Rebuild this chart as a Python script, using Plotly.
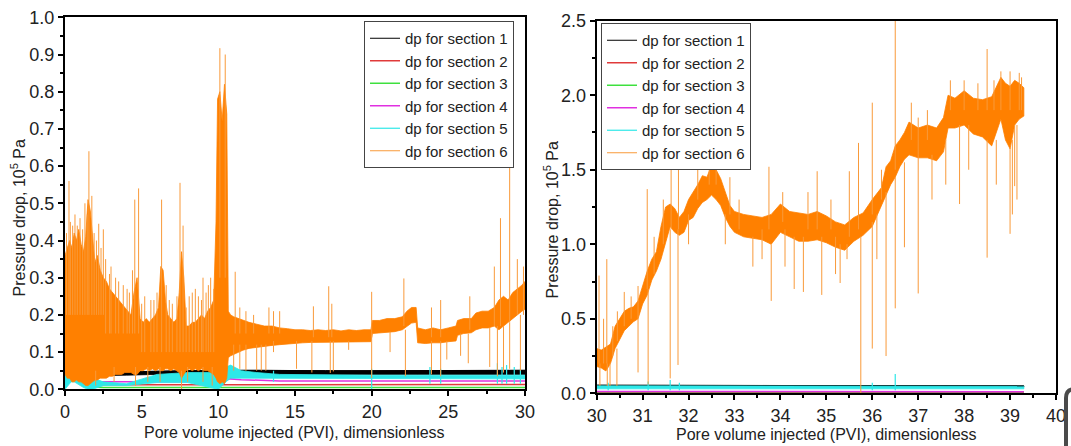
import plotly.graph_objects as go

W, H = 1071, 446

# ---------------- left panel: 0 - 30 PVI ----------------
# section 6 noise band (upper / lower envelope), 10^5 Pa
L6_x = [0.0, 0.15, 0.3, 0.45, 0.6, 0.75, 0.9, 1.05, 1.2, 1.35, 1.5, 1.65, 1.8, 1.95, 2.1, 2.3, 2.5, 2.7,
        2.9, 3.1, 3.3, 3.5, 3.7, 3.9, 4.1, 4.3, 4.5, 4.7, 4.9, 5.1, 5.3, 5.5, 5.7, 5.9, 6.1, 6.25, 6.4,
        6.55, 6.7, 6.9, 7.1, 7.3, 7.45, 7.6, 7.75, 7.9, 8.1, 8.3, 8.5, 8.7, 8.9, 9.1, 9.3, 9.5, 9.7,
        9.85, 9.95, 10.1, 10.25, 10.4, 10.55, 10.65, 10.8, 11.0, 11.3, 11.6, 12.0, 12.5, 13.0, 13.5,
        14.0, 14.5, 15.0, 15.5, 16.0, 16.5, 17.0, 17.5, 18.0, 18.5, 19.0, 19.5, 19.95, 20.05, 20.5,
        21.0, 21.5, 22.0, 22.3, 22.6, 22.9, 23.0, 23.5, 24.0, 24.5, 25.0, 25.5, 25.6, 26.0, 26.5,
        26.8, 27.2, 27.6, 28.0, 28.3, 28.6, 28.9, 29.2, 29.5, 29.8, 30.0]
L6_hi = [0.36, 0.38, 0.40, 0.38, 0.42, 0.40, 0.43, 0.39, 0.37, 0.41, 0.51, 0.48, 0.40, 0.34, 0.36, 0.32,
         0.30, 0.29, 0.27, 0.26, 0.25, 0.24, 0.23, 0.22, 0.21, 0.20, 0.26, 0.30, 0.19, 0.18, 0.19, 0.18,
         0.19, 0.20, 0.22, 0.33, 0.32, 0.24, 0.20, 0.19, 0.18, 0.19, 0.26, 0.37, 0.30, 0.17, 0.17, 0.18,
         0.18, 0.19, 0.20, 0.19, 0.21, 0.22, 0.24, 0.45, 0.78, 0.80, 0.72, 0.82, 0.74, 0.21, 0.20, 0.195,
         0.19, 0.185, 0.18, 0.175, 0.17, 0.17, 0.165, 0.163, 0.16, 0.16, 0.158, 0.16, 0.158, 0.16, 0.157,
         0.16, 0.158, 0.16, 0.16, 0.185, 0.185, 0.19, 0.19, 0.195, 0.21, 0.22, 0.22, 0.165, 0.16, 0.165,
         0.16, 0.165, 0.17, 0.185, 0.19, 0.19, 0.205, 0.21, 0.21, 0.22, 0.24, 0.25, 0.24, 0.26, 0.27,
         0.28, 0.29]
L6_lo = [0.04, 0.03, 0.03, 0.02, 0.02, 0.025, 0.02, 0.02, 0.015, 0.01, 0.01, 0.015, 0.02, 0.025, 0.025,
         0.03, 0.03, 0.03, 0.035, 0.035, 0.04, 0.04, 0.04, 0.045, 0.045, 0.045, 0.04, 0.04, 0.05, 0.05,
         0.055, 0.05, 0.055, 0.05, 0.055, 0.05, 0.05, 0.055, 0.055, 0.05, 0.055, 0.05, 0.045, 0.03, 0.04,
         0.05, 0.055, 0.05, 0.055, 0.05, 0.055, 0.05, 0.05, 0.045, 0.04, 0.03, 0.02, 0.015, 0.02, 0.015,
         0.03, 0.085, 0.09, 0.095, 0.10, 0.105, 0.11, 0.112, 0.115, 0.118, 0.12, 0.122, 0.124, 0.125,
         0.126, 0.127, 0.127, 0.126, 0.128, 0.128, 0.128, 0.128, 0.128, 0.15, 0.152, 0.153, 0.155, 0.16,
         0.17, 0.178, 0.18, 0.125, 0.123, 0.125, 0.125, 0.128, 0.13, 0.145, 0.15, 0.152, 0.16, 0.165,
         0.165, 0.17, 0.16, 0.17, 0.18, 0.19, 0.20, 0.21, 0.215]
# section 6 isolated excursions (x, low end, high end)
L6_sp_x = [0.26, 0.5, 0.98, 1.3, 1.45, 1.56, 1.75, 2.2, 2.5, 2.9, 3.3, 3.8, 4.05, 4.55, 4.8, 5.2, 5.6,
           6.3, 6.8, 7.5, 7.7, 8.1, 8.5, 8.9, 9.2, 9.5, 10.1, 10.45, 11.1, 13.3, 13.6, 14.0, 16.2, 17.2,
           17.4, 20.0, 22.1, 23.9, 24.5, 26.4, 28.0, 28.4, 29.0, 29.5, 29.9,
           0.1, 0.35, 0.65, 0.8, 1.15, 1.9, 2.05, 2.35, 2.65, 3.0, 3.5, 4.2, 4.4, 5.0, 5.8, 6.0, 6.6,
           7.0, 7.3, 7.9, 8.3, 8.7, 9.0, 9.35, 9.7, 11.4, 11.8, 12.3,
           11.0, 11.4, 11.8, 12.5, 12.8, 13.1, 13.6, 15.1, 16.1, 17.3, 17.5, 18.5, 20.0, 21.2, 22.2,
           23.9, 24.5, 24.9, 25.8, 26.3, 27.7, 28.2, 28.6, 29.0, 29.7,
           2.0, 3.2, 4.6, 5.4, 6.2, 7.6, 8.0, 9.0, 9.6]
L6_sp_lo = [0.2, 0.2, 0.2, 0.2, 0.2, 0.2, 0.2, 0.2, 0.2, 0.15, 0.15, 0.15, 0.15, 0.15, 0.15, 0.1, 0.1,
            0.1, 0.1, 0.1, 0.1, 0.1, 0.1, 0.1, 0.1, 0.1, 0.3, 0.3, 0.15, 0.15, 0.15, 0.15, 0.14, 0.14,
            0.14, 0.14, 0.17, 0.14, 0.14, 0.16, 0.17, 0.17, 0.18, 0.2, 0.2,
            0.2, 0.2, 0.2, 0.2, 0.2, 0.2, 0.2, 0.2, 0.15, 0.15, 0.15, 0.15, 0.15, 0.1, 0.1, 0.1, 0.1,
            0.1, 0.1, 0.1, 0.1, 0.1, 0.1, 0.1, 0.1, 0.15, 0.15, 0.15,
            0.05, 0.055, 0.05, 0.05, 0.05, 0.05, 0.10, 0.055, 0.045, 0.044, 0.048, 0.106, 0.03, 0.10,
            0.035, 0.04, 0.035, 0.08, 0.09, 0.07, 0.06, 0.035, 0.045, 0.055, 0.05,
            0.01, 0.02, 0.01, 0.02, 0.02, 0.0, 0.02, 0.02, 0.01]
L6_sp_hi = [0.56, 0.44, 0.46, 0.50, 0.47, 0.64, 0.52, 0.445, 0.43, 0.31, 0.30, 0.28, 0.27, 0.51, 0.54,
            0.25, 0.24, 0.51, 0.24, 0.555, 0.44, 0.25, 0.27, 0.24, 0.26, 0.30, 0.917, 0.90, 0.316, 0.22,
            0.21, 0.21, 0.223, 0.277, 0.23, 0.262, 0.298, 0.22, 0.24, 0.25, 0.33, 0.46, 0.62, 0.35, 0.33,
            0.42, 0.45, 0.47, 0.44, 0.43, 0.42, 0.40, 0.38, 0.35, 0.33, 0.29, 0.26, 0.32, 0.23, 0.24,
            0.26, 0.28, 0.23, 0.25, 0.22, 0.26, 0.25, 0.30, 0.28, 0.27, 0.22, 0.21, 0.20,
            0.12, 0.12, 0.12, 0.12, 0.12, 0.12, 0.13, 0.13, 0.13, 0.13, 0.13, 0.13, 0.15, 0.155, 0.16,
            0.13, 0.13, 0.13, 0.15, 0.15, 0.165, 0.17, 0.17, 0.18, 0.2,
            0.05, 0.06, 0.06, 0.06, 0.06, 0.05, 0.06, 0.06, 0.06]

# sections 1-5 (bottom traces); sections 1 and 5 carry a noise band
L_x = [0, 0.2, 0.4, 0.6, 0.8, 1.0, 1.2, 1.5, 1.8, 2.5, 4, 6, 8, 10, 10.5, 10.8, 11.5, 12.5, 14, 17, 20,
       23, 26, 30]
L1_hi = [0.044, 0.044, 0.044, 0.044, 0.044, 0.044, 0.044, 0.044, 0.044, 0.045, 0.047, 0.049, 0.05, 0.05,
         0.051, 0.051, 0.051, 0.051, 0.05, 0.05, 0.05, 0.05, 0.051, 0.051]
L1_lo = [0.036, 0.036, 0.036, 0.036, 0.036, 0.036, 0.036, 0.036, 0.036, 0.036, 0.038, 0.04, 0.04, 0.04,
         0.041, 0.041, 0.041, 0.041, 0.04, 0.04, 0.04, 0.04, 0.04, 0.04]
L2 = [0.02, 0.03, 0.035, 0.03, 0.025, 0.02, 0.015, 0.012, 0.012, 0.012, 0.012, 0.012, 0.012, 0.012,
      0.013, 0.014, 0.014, 0.013, 0.013, 0.013, 0.013, 0.013, 0.013, 0.013]
L3 = [0.01, 0.03, 0.05, 0.06, 0.045, 0.03, 0.015, 0.008, 0.006, 0.005, 0.005, 0.005, 0.005, 0.005,
      0.006, 0.006, 0.006, 0.006, 0.005, 0.005, 0.005, 0.005, 0.005, 0.005]
L4 = [0.03, 0.06, 0.09, 0.08, 0.05, 0.04, 0.03, 0.02, 0.02, 0.02, 0.02, 0.02, 0.02, 0.02, 0.025, 0.028,
      0.026, 0.024, 0.022, 0.022, 0.022, 0.022, 0.022, 0.022]
L5_hi = [0.10, 0.09, 0.11, 0.08, 0.06, 0.05, 0.04, 0.035, 0.03, 0.02, 0.015, 0.04, 0.045, 0.045, 0.06,
         0.065, 0.05, 0.045, 0.04, 0.038, 0.038, 0.038, 0.038, 0.038]
L5_lo = [0.0, 0.01, 0.02, 0.02, 0.015, 0.01, 0.005, 0.0, 0.0, 0.01, 0.01, 0.018, 0.018, 0.0, 0.02,
         0.03, 0.03, 0.028, 0.028, 0.028, 0.028, 0.028, 0.028, 0.028]
L5_sp_x = [13.6, 20.0, 23.8, 24.5, 28.2, 28.5, 28.8, 29.3, 29.7]
L5_sp_lo = [0.02, 0.0, 0.015, 0.015, 0.015, 0.015, 0.015, 0.015, 0.015]
L5_sp_hi = [0.05, 0.055, 0.06, 0.055, 0.07, 0.06, 0.065, 0.06, 0.055]

# ---------------- right panel: 30 - 40 PVI ----------------
R6_x = [30.0, 30.1, 30.2, 30.3, 30.4, 30.5, 30.6, 30.7, 30.8, 30.9, 31.0, 31.1, 31.2, 31.3, 31.4, 31.5,
        31.6, 31.7, 31.8, 31.9, 32.0, 32.1, 32.2, 32.3, 32.4, 32.5, 32.6, 32.7, 32.8, 32.9, 33.0, 33.2,
        33.4, 33.6, 33.8, 34.0, 34.2, 34.4, 34.6, 34.8, 35.0, 35.2, 35.4, 35.6, 35.8, 36.0, 36.1, 36.2,
        36.3, 36.4, 36.5, 36.6, 36.7, 36.8, 37.0, 37.2, 37.4, 37.55, 37.65, 37.8, 38.0, 38.2, 38.4, 38.6,
        38.8, 38.9, 39.0, 39.1, 39.2, 39.3]
R6_hi = [0.30, 0.29, 0.31, 0.33, 0.45, 0.50, 0.55, 0.57, 0.58, 0.62, 0.72, 0.82, 0.90, 0.95, 1.12, 1.25,
         1.27, 1.24, 1.18, 1.22, 1.30, 1.35, 1.40, 1.46, 1.45, 1.53, 1.50, 1.44, 1.35, 1.26, 1.22, 1.20,
         1.19, 1.18, 1.20, 1.27, 1.22, 1.21, 1.20, 1.22, 1.19, 1.15, 1.13, 1.18, 1.21, 1.30, 1.34, 1.38,
         1.52, 1.56, 1.66, 1.70, 1.75, 1.82, 1.78, 1.80, 1.78, 1.85, 2.00, 1.98, 2.03, 1.98, 1.97, 1.99,
         2.12, 2.08, 2.06, 2.10, 2.08, 2.05]
R6_lo = [0.18, 0.17, 0.15, 0.20, 0.30, 0.36, 0.42, 0.45, 0.48, 0.50, 0.60, 0.66, 0.76, 0.82, 0.90, 1.00,
         1.12, 1.08, 1.06, 1.08, 1.16, 1.18, 1.24, 1.28, 1.30, 1.33, 1.30, 1.26, 1.18, 1.12, 1.08, 1.05,
         1.04, 1.03, 1.00, 1.08, 1.05, 1.02, 1.02, 1.03, 1.01, 0.98, 0.96, 1.02, 1.06, 1.12, 1.18, 1.25,
         1.33, 1.40, 1.45, 1.52, 1.57, 1.60, 1.58, 1.58, 1.56, 1.62, 1.78, 1.78, 1.80, 1.74, 1.72, 1.66,
         1.84, 1.70, 1.64, 1.80, 1.84, 1.86]
R6_sp_x = [30.05, 30.22, 30.45, 30.9, 31.1, 31.62, 31.78, 32.9, 33.75, 34.6, 34.8, 35.5, 35.7, 36.0,
           36.5, 37.0, 38.0, 38.5, 38.8, 39.0,
           30.15, 30.35, 30.6, 30.75, 31.25, 31.45, 32.2, 32.45, 32.6, 33.1, 34.05, 35.1, 36.2, 36.85,
           37.2, 37.7, 38.3, 38.65, 39.2, 39.25,
           30.07, 30.23, 30.29, 30.44, 30.9, 31.12, 31.6, 31.77, 33.4, 33.8, 34.3, 34.5, 34.9, 35.3,
           35.75, 36.0, 36.3, 36.5, 36.7, 37.0, 37.9, 38.5, 39.0, 39.1,
           32.0, 32.8, 33.6, 34.1, 35.2, 35.45, 36.1, 37.3, 37.6, 38.1, 38.7, 39.05, 39.15]
R6_sp_lo = [0.2, 0.2, 0.35, 0.5, 0.7, 1.1, 1.1, 1.2, 1.1, 1.1, 1.1, 1.05, 1.1, 1.2, 1.5, 1.6, 1.9, 1.9,
            1.9, 1.9,
            0.2, 0.25, 0.45, 0.5, 0.8, 1.0, 1.3, 1.4, 1.4, 1.1, 1.15, 1.1, 1.3, 1.7, 1.7, 1.9, 1.9, 1.9,
            1.9, 1.9,
            0.05, 0.05, 0.05, 0.05, 0.14, 0.06, 0.10, 0.19, 0.85, 0.62, 0.70, 0.68, 0.66, 0.74, 0.0,
            0.30, 0.25, 0.57, 0.98, 0.67, 1.27, 0.91, 1.07, 1.39,
            1.0, 1.0, 0.9, 0.85, 0.8, 0.9, 0.9, 1.3, 1.4, 1.5, 1.4, 1.2, 1.3]
R6_sp_hi = [0.79, 0.90, 0.55, 0.72, 1.37, 1.60, 1.55, 1.45, 1.52, 1.35, 1.49, 1.49, 1.68, 1.95, 2.50,
            1.85, 2.10, 2.31, 2.16, 2.16,
            0.5, 0.45, 0.68, 0.65, 1.05, 1.3, 1.5, 1.57, 1.56, 1.3, 1.35, 1.3, 1.5, 1.95, 1.9, 2.1, 2.08,
            2.1, 2.15, 2.12,
            0.2, 0.2, 0.2, 0.3, 0.5, 0.7, 1.1, 1.1, 1.05, 1.0, 1.05, 1.05, 1.05, 1.0, 1.05, 1.15, 1.35,
            1.45, 1.55, 1.6, 1.8, 1.7, 1.65, 1.8,
            1.2, 1.2, 1.1, 1.1, 1.05, 1.0, 1.2, 1.6, 1.7, 1.8, 1.7, 1.7, 1.8]

R_x = [30.0, 31.0, 32.0, 33.0, 34.0, 35.0, 36.0, 37.0, 38.0, 39.0, 39.3]
R1_hi = [0.054, 0.054, 0.053, 0.052, 0.052, 0.051, 0.051, 0.05, 0.05, 0.05, 0.05]
R1_lo = [0.046, 0.046, 0.045, 0.044, 0.044, 0.043, 0.043, 0.042, 0.042, 0.042, 0.042]
R2 = [0.006, 0.006, 0.006, 0.006, 0.006, 0.006, 0.006, 0.006, 0.006, 0.006, 0.006]
R3 = [0.01, 0.01, 0.01, 0.01, 0.01, 0.01, 0.01, 0.01, 0.01, 0.01, 0.01]
R4 = [0.012, 0.012, 0.012, 0.011, 0.011, 0.011, 0.012, 0.012, 0.011, 0.011, 0.011]
R5_hi = [0.05, 0.05, 0.05, 0.048, 0.047, 0.047, 0.048, 0.048, 0.047, 0.047, 0.047]
R5_lo = [0.03, 0.03, 0.03, 0.03, 0.03, 0.03, 0.03, 0.03, 0.03, 0.03, 0.03]
R5_sp_x = [30.25, 31.12, 31.6, 31.8, 36.0, 36.5]
R5_sp_lo = [0.02, 0.02, 0.02, 0.02, 0.02, 0.02]
R5_sp_hi = [0.07, 0.08, 0.09, 0.07, 0.07, 0.13]

NAMES = ["dp for section 1", "dp for section 2", "dp for section 3",
         "dp for section 4", "dp for section 5", "dp for section 6"]
COLORS = ["#000000", "#e03a3a", "#3ee03e", "#e030e0", "#2ee8e8", "#ff8000"]
SPIKE_ORANGE = "#f99a3a"
FONT = "Liberation Sans, Arial, sans-serif"


def segments(xs, lo, hi):
    sx, sy = [], []
    for x, a, b in zip(xs, lo, hi):
        sx += [x, x, None]
        sy += [a, b, None]
    return sx, sy


def band(fig, x, lo, hi, color, xa, ya, group):
    fig.add_trace(go.Scatter(x=list(x) + list(x)[::-1], y=list(hi) + list(lo)[::-1],
                             mode="lines", fill="toself", fillcolor=color,
                             line=dict(color=color, width=0.8), hoverinfo="skip",
                             showlegend=False, legendgroup=group, xaxis=xa, yaxis=ya))


fig = go.Figure()

panels = [
    dict(xa="x", ya="y", leg="legend", x=L_x, b1=(L1_lo, L1_hi), small=[L2, L3, L4], c5=(L5_lo, L5_hi),
         s5=(L5_sp_x, L5_sp_lo, L5_sp_hi), b6=(L6_x, L6_lo, L6_hi), s6=(L6_sp_x, L6_sp_lo, L6_sp_hi)),
    dict(xa="x2", ya="y2", leg="legend2", x=R_x, b1=(R1_lo, R1_hi), small=[R2, R3, R4], c5=(R5_lo, R5_hi),
         s5=(R5_sp_x, R5_sp_lo, R5_sp_hi), b6=(R6_x, R6_lo, R6_hi), s6=(R6_sp_x, R6_sp_lo, R6_sp_hi)),
]

for p in panels:
    grp = p["leg"]
    common = dict(legend=grp, xaxis=p["xa"], yaxis=p["ya"], mode="lines")
    # section 1: band plus a thin line carrying the legend entry
    band(fig, p["x"], p["b1"][0], p["b1"][1], COLORS[0], p["xa"], p["ya"], grp + "0")
    fig.add_trace(go.Scatter(x=p["x"], y=p["b1"][1], name=NAMES[0], legendgroup=grp + "0",
                             line=dict(color=COLORS[0], width=1), **common))
    for i, ys in enumerate(p["small"], start=1):
        fig.add_trace(go.Scatter(x=p["x"], y=ys, name=NAMES[i], legendgroup=grp + str(i),
                                 line=dict(color=COLORS[i], width=1.5), **common))
    # section 5
    band(fig, p["x"], p["c5"][0], p["c5"][1], COLORS[4], p["xa"], p["ya"], grp + "4")
    sx, sy = segments(*p["s5"])
    fig.add_trace(go.Scatter(x=sx, y=sy, name=NAMES[4], legendgroup=grp + "4",
                             line=dict(color=COLORS[4], width=1.2), **common))
    # section 6
    bx, blo, bhi = p["b6"]
    band(fig, bx, blo, bhi, COLORS[5], p["xa"], p["ya"], grp + "5")
    sx, sy = segments(*p["s6"])
    fig.add_trace(go.Scatter(x=sx, y=sy, name=NAMES[5], legendgroup=grp + "5",
                             line=dict(color=SPIKE_ORANGE, width=1), **common))


def px_x(v):
    return v / W


def px_y(v):
    return 1 - v / H


axis_common = dict(showgrid=False, zeroline=False, showline=True, linecolor="black", linewidth=2,
                   mirror=True, ticks="outside", ticklen=5, tickwidth=1.5, tickcolor="black",
                   automargin=False, tickfont=dict(family=FONT, size=18, color="#222"))

fig.update_layout(
    width=W, height=H, margin=dict(l=0, r=0, t=0, b=0, autoexpand=False),
    paper_bgcolor="white", plot_bgcolor="white",
    font=dict(family=FONT, color="#222"),
    xaxis=dict(domain=[px_x(65), px_x(525)], range=[0, 30], dtick=5, anchor="y",
               minor=dict(dtick=2.5, ticks="outside", ticklen=3, tickcolor="black"), **axis_common),
    yaxis=dict(domain=[px_y(389.3), px_y(17.3)], range=[0, 1.0], dtick=0.1, tickformat=".1f", anchor="x",
               minor=dict(dtick=0.05, ticks="outside", ticklen=3, tickcolor="black"), **axis_common),
    xaxis2=dict(domain=[px_x(596.7), px_x(1056)], range=[30, 40], dtick=1, anchor="y2",
                minor=dict(dtick=0.5, ticks="outside", ticklen=3, tickcolor="black"), **axis_common),
    yaxis2=dict(domain=[px_y(393.3), px_y(20.7)], range=[0, 2.5], dtick=0.5, tickformat=".1f", anchor="x2",
                minor=dict(dtick=0.25, ticks="outside", ticklen=3, tickcolor="black"), **axis_common),
    legend=dict(x=px_x(364), y=px_y(21), xanchor="left", yanchor="top", bgcolor="white",
                bordercolor="#444", borderwidth=1, font=dict(family=FONT, size=15, color="#222"),
                traceorder="normal"),
    legend2=dict(x=px_x(601), y=px_y(23), xanchor="left", yanchor="top", bgcolor="white",
                 bordercolor="#444", borderwidth=1, font=dict(family=FONT, size=15, color="#222"),
                 traceorder="normal"),
    showlegend=True,
)

xtitle = "Pore volume injected (PVI), dimensionless"
ytitle = "Pressure drop, 10<sup>5</sup> Pa"
for tx, ty, txt, ang in [(294, 432, xtitle, 0), (826, 434, xtitle, 0),
                         (18.5, 218, ytitle, -90), (551.5, 220, ytitle, -90)]:
    fig.add_annotation(x=px_x(tx), y=px_y(ty), xref="paper", yref="paper", text=txt, textangle=ang,
                       showarrow=False, xanchor="center", yanchor="middle",
                       font=dict(family=FONT, size=16, color="#222"))

# rounded corner of a panel peeking in at the lower right
fig.add_shape(type="path", xref="paper", yref="paper",
              path=f"M {px_x(1080)} {px_y(389)} L {px_x(1075)} {px_y(389)} "
                   f"Q {px_x(1066)} {px_y(389)} {px_x(1066)} {px_y(398)} L {px_x(1066)} {px_y(450)}",
              line=dict(color="#4a4a4a", width=4))

fig.write_html("out.html")
